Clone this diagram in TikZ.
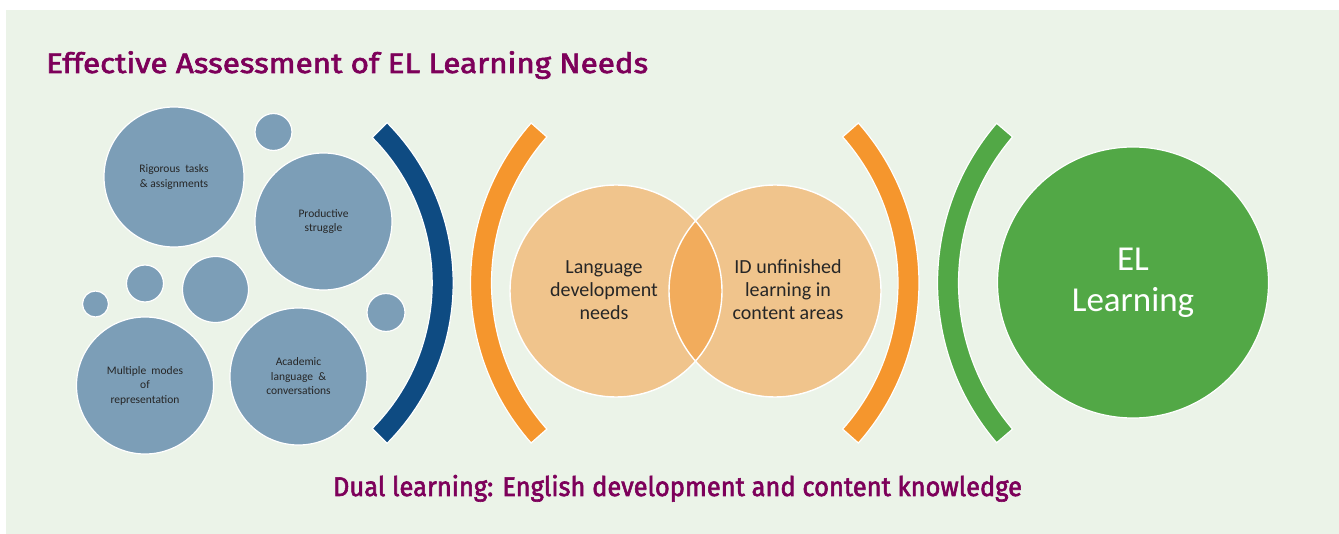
\documentclass[tikz,border=0pt]{standalone}
\usepackage{fontspec}
\setmainfont{Carlito}
\newfontfamily\titlefont{Fira Sans}[FakeBold=2.2]
\usetikzlibrary{calc}
\definecolor{bg}{RGB}{235,243,232}
\definecolor{bubble}{RGB}{124,158,183}
\definecolor{bblue}{RGB}{14,75,130}
\definecolor{borange}{RGB}{245,150,45}
\definecolor{bgreen}{RGB}{82,168,70}
\definecolor{venn}{RGB}{240,196,140}
\definecolor{vennmid}{RGB}{242,172,92}
\definecolor{ttl}{RGB}{125,0,90}
\definecolor{txt}{RGB}{38,38,38}
\begin{document}
\begin{tikzpicture}[x=1pt,y=-1pt,
  bub/.style={circle,fill=bubble,draw=white,line width=1.2pt,inner sep=0pt,minimum size=#1,
    text=txt,align=center,font=\fontsize{11.5}{14.5}\selectfont},
  vtext/.style={align=center,text=txt,font=\fontsize{20}{23}\selectfont},
  brk/.style={draw=white,line width=1.2pt}]
\useasboundingbox (0,0) rectangle (1339,534);
\fill[white] (0,0) rectangle (1339,534);
\fill[bg] (6,10) rectangle (1339,534);
% title
\node[anchor=base west,text=ttl,inner sep=0pt] (title) at (46,73)
  {\titlefont\fontsize{28}{32}\selectfont\resizebox{602pt}{\height}{Effective Assessment of EL Learning Needs}};
\node[anchor=base,text=ttl,inner sep=0pt] (dual) at (677.5,496)
  {\titlefont\fontsize{27}{31}\selectfont\resizebox{689pt}{\height}{Dual learning: English development and content knowledge}};
% bubbles
\node[bub=140pt] (rig) at (174,177) {Rigorous~~tasks\\\&~assignments};
\node[bub=37pt] (s1) at (273.5,132) {};
\node[bub=137pt] (prod) at (323.5,221.5) {Productive\\struggle};
\node[bub=26pt] (s2) at (95.5,304) {};
\node[bub=37pt] (s3) at (145,283.5) {};
\node[bub=66pt] (s4) at (215.5,289.5) {};
\node[bub=38pt] (s5) at (386,312.5) {};
\node[bub=137pt] (multi) at (145,385.5) {Multiple~~modes\\of\\representation};
\node[bub=137pt] (acad) at (298.5,376.5) {Academic\\language~~\&\\conversations};
% brackets
\coordinate (cb) at (225.7,283);
\fill[bblue,brk] ($(cb)+(-44.8:227.5)$) arc[start angle=-44.8,end angle=44.8,radius=227.5]
  -- ($(cb)+(44.8:206.5)$) arc[start angle=44.8,end angle=-44.8,radius=206.5] -- cycle;
\coordinate (co1) at (712,283);
\fill[borange,brk] ($(co1)+(138.5:241.5)$) arc[start angle=138.5,end angle=221.5,radius=241.5]
  -- ($(co1)+(221.5:220.5)$) arc[start angle=221.5,end angle=138.5,radius=220.5] -- cycle;
\coordinate (co2) at (677.5,283);
\fill[borange,brk] ($(co2)+(-41.5:241.5)$) arc[start angle=-41.5,end angle=41.5,radius=241.5]
  -- ($(co2)+(41.5:220.5)$) arc[start angle=41.5,end angle=-41.5,radius=220.5] -- cycle;
\coordinate (cg) at (1183,283);
\fill[bgreen,brk] ($(cg)+(139.4:245.5)$) arc[start angle=139.4,end angle=220.6,radius=245.5]
  -- ($(cg)+(220.6:224.5)$) arc[start angle=220.6,end angle=139.4,radius=224.5] -- cycle;
% venn
\coordinate (vl) at (616,291);
\coordinate (vr) at (775,291);
\fill[venn] (vl) circle[radius=106];
\fill[venn] (vr) circle[radius=106];
\begin{scope}
  \clip (vl) circle[radius=106];
  \fill[vennmid] (vr) circle[radius=106];
\end{scope}
\draw[white,line width=1.4pt] (vl) circle[radius=106] (vr) circle[radius=106];
\node[vtext] (lang) at (604,290) {Language\\development\\needs};
\node[vtext] (id) at (788,290) {ID unfinished\\learning in\\content areas};
% EL learning
\node[circle,fill=bgreen,draw=white,line width=1.2pt,minimum size=271pt,inner sep=0pt,
  text=white,align=center,font=\fontsize{35}{41}\selectfont] (el) at (1133,282.5) {EL\\Learning};
\end{tikzpicture}
\end{document}
